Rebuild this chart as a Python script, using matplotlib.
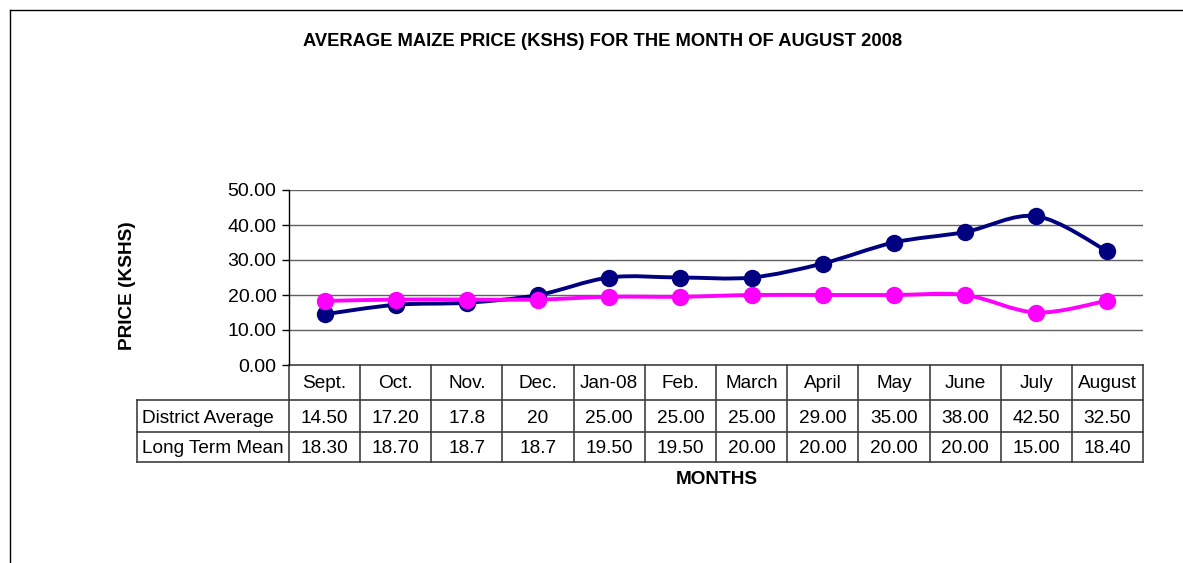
import matplotlib
matplotlib.use("Agg")
import matplotlib.pyplot as plt
import numpy as np
from matplotlib.path import Path
from matplotlib.patches import PathPatch
from matplotlib.lines import Line2D
import matplotlib.transforms as mtransforms

plt.rcParams['font.family'] = ['Liberation Sans', 'DejaVu Sans']

months = ["Sept.", "Oct.", "Nov.", "Dec.", "Jan-08", "Feb.", "March", "April",
          "May", "June", "July", "August"]
district_avg = [14.50, 17.20, 17.8, 20, 25.00, 25.00, 25.00, 29.00, 35.00, 38.00, 42.50, 32.50]
long_term_mean = [18.30, 18.70, 18.7, 18.7, 19.50, 19.50, 20.00, 20.00, 20.00, 20.00, 15.00, 18.40]
district_text = ["14.50", "17.20", "17.8", "20", "25.00", "25.00", "25.00", "29.00",
                 "35.00", "38.00", "42.50", "32.50"]
ltm_text = ["18.30", "18.70", "18.7", "18.7", "19.50", "19.50", "20.00", "20.00",
            "20.00", "20.00", "15.00", "18.40"]
series_names = ["District Average", "Long Term Mean"]
yticks = [0, 10, 20, 30, 40, 50]

W, H = 1183, 563
fig = plt.figure(figsize=(W / 100, H / 100), dpi=100)

# chart frame (top & left visible)
fig.add_artist(Line2D([10 / W, 10 / W], [0, 1 - 10 / H], transform=fig.transFigure, color='black', lw=1))
fig.add_artist(Line2D([10 / W, 1], [1 - 10 / H, 1 - 10 / H], transform=fig.transFigure, color='black', lw=1))

ax_l, ax_r, ax_t, ax_b = 289, 1143, 190, 365
ax = fig.add_axes([ax_l / W, 1 - ax_b / H, (ax_r - ax_l) / W, (ax_b - ax_t) / H])
n = len(months)
ax.set_xlim(-0.5, n - 0.5)
ax.set_ylim(0, 50)
for s in ['top', 'right', 'bottom']:
    ax.spines[s].set_visible(False)
ax.spines['left'].set_color('black')
ax.spines['left'].set_linewidth(1)
ax.set_yticks(yticks)
ax.set_yticklabels([f"{v:.2f}" for v in yticks], fontsize=14)
ax.tick_params(axis='y', direction='out', length=5, width=1, pad=4)
ax.set_xticks([])
for v in yticks[1:]:
    ax.axhline(v, color='#606060', lw=1, zorder=0)


def smooth_path(xs, ys):
    xs = np.asarray(xs, float)
    ys = np.asarray(ys, float)
    verts = [(xs[0], ys[0])]
    codes = [Path.MOVETO]
    m = len(xs)
    for i in range(m - 1):
        p0 = np.array([xs[max(i - 1, 0)], ys[max(i - 1, 0)]])
        p1 = np.array([xs[i], ys[i]])
        p2 = np.array([xs[i + 1], ys[i + 1]])
        p3 = np.array([xs[min(i + 2, m - 1)], ys[min(i + 2, m - 1)]])
        c1 = p1 + (p2 - p0) / 6.0
        c2 = p2 - (p3 - p1) / 6.0
        verts += [tuple(c1), tuple(c2), tuple(p2)]
        codes += [Path.CURVE4] * 3
    return Path(verts, codes)


x = np.arange(n)
for vals, col in [(district_avg, '#000080'), (long_term_mean, '#FF00FF')]:
    patch = PathPatch(smooth_path(x, vals), facecolor='none', edgecolor=col, lw=2.8,
                      zorder=3, capstyle='round', joinstyle='round')
    ax.add_patch(patch)
    ax.plot(x, vals, linestyle='none', marker='o', markersize=11.5, color=col, zorder=4)

# data table below the plot
trans = mtransforms.blended_transform_factory(ax.transData, ax.transAxes)
ph = ax_b - ax_t
def yf(py):
    return (ax_b - py) / ph

label_left = -0.5 + (137 - ax_l) / ((ax_r - ax_l) / n)
tcol = '#404040'
rows_px = [365, 400, 432, 462]
ax.add_line(Line2D([-0.5, n - 0.5], [yf(365)] * 2, transform=trans, color=tcol, lw=1.2, clip_on=False))
for py in rows_px[1:]:
    ax.add_line(Line2D([label_left, n - 0.5], [yf(py)] * 2, transform=trans, color=tcol, lw=1.2, clip_on=False))
for i in range(n + 1):
    ax.add_line(Line2D([i - 0.5, i - 0.5], [yf(365), yf(462)], transform=trans, color=tcol, lw=1.2, clip_on=False))
ax.add_line(Line2D([label_left, label_left], [yf(400), yf(462)], transform=trans, color=tcol, lw=1.2, clip_on=False))

fs = 13.7
for i in range(n):
    ax.text(i, yf(384), months[i], transform=trans, ha='center', va='center', fontsize=fs, clip_on=False)
    ax.text(i, yf(418), district_text[i], transform=trans, ha='center', va='center', fontsize=fs, clip_on=False)
    ax.text(i, yf(448.5), ltm_text[i], transform=trans, ha='center', va='center', fontsize=fs, clip_on=False)
label_x = label_left + 5 / ((ax_r - ax_l) / n)
ax.text(label_x, yf(418), series_names[0], transform=trans, ha='left', va='center', fontsize=fs, clip_on=False)
ax.text(label_x, yf(448.5), series_names[1], transform=trans, ha='left', va='center', fontsize=fs, clip_on=False)

# titles
fig.text(603 / W, 1 - 41 / H, "AVERAGE MAIZE PRICE (KSHS) FOR THE MONTH OF AUGUST 2008",
         ha='center', va='center', fontsize=13.2, fontweight='bold')
fig.text(128 / W, 1 - 286 / H, "PRICE (KSHS)", ha='center', va='center', rotation=90,
         fontsize=13.7, fontweight='bold')
fig.text(717 / W, 1 - 479 / H, "MONTHS", ha='center', va='center', fontsize=13.7, fontweight='bold')

fig.savefig("out.png", dpi=100)
